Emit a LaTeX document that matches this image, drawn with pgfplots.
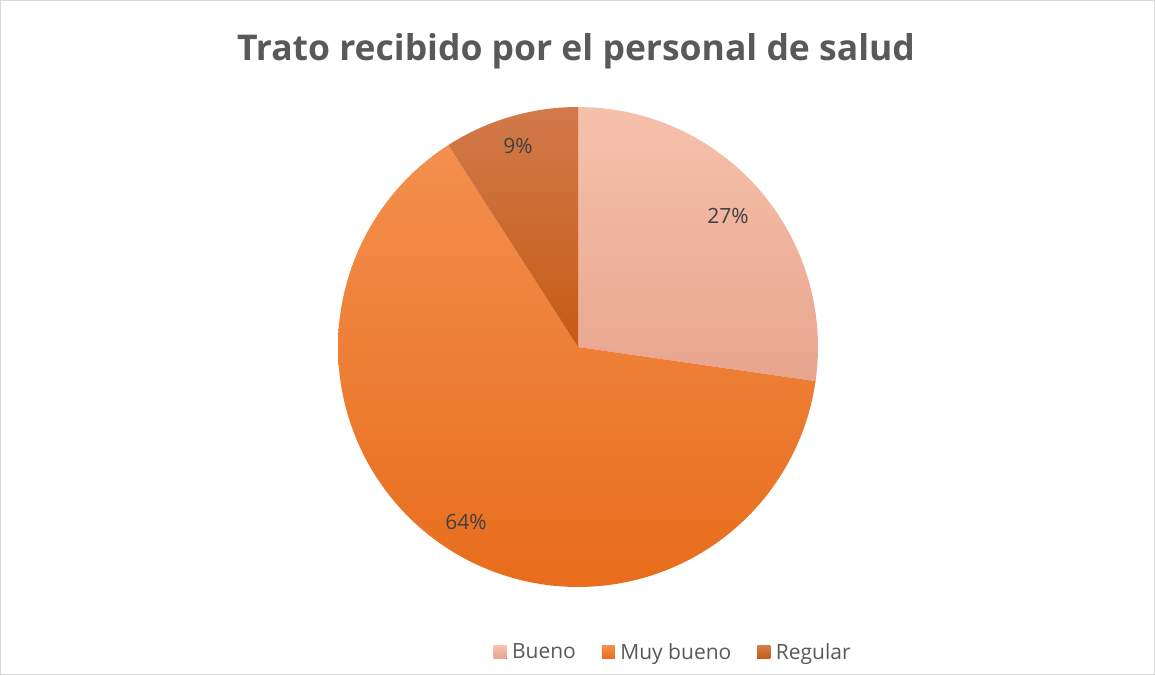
\documentclass[border=0pt]{standalone}
\usepackage{fontspec}
\setmainfont{Open Sans}
\usepackage{pgfplots}
\pgfplotsset{compat=1.18}
\definecolor{titlegray}{HTML}{595959}
\definecolor{labelgray}{HTML}{404040}
\definecolor{framegray}{HTML}{D9D9D9}
\definecolor{buenoT}{HTML}{F6C1AB}
\definecolor{buenoB}{HTML}{E8A58E}
\definecolor{muyT}{HTML}{F38F4E}
\definecolor{muyB}{HTML}{E86D1C}
\definecolor{regT}{HTML}{D27A4C}
\definecolor{regB}{HTML}{C55B13}

% shares in percent (3, 7 and 1 of 11): Bueno 27.27, Muy bueno 63.64, Regular 9.09
% clockwise from 12 o'clock, angles in degrees
\def\aStart{90}
\def\aB{-8.18}     % 90 - 0.2727*360
\def\aM{-237.27}   % -8.18 - 0.6364*360
\def\aEnd{-270}

\begin{document}
\begin{tikzpicture}
\draw[framegray, line width=1pt] (0.5pt,0.5pt) rectangle (1154.5pt,674.5pt);
\node[anchor=base, font=\fontsize{35.5}{42}\selectfont\bfseries, text=titlegray]
  at (576pt,614pt) {Trato recibido por el personal de salud};
\begin{axis}[
    at={(578pt,328pt)}, anchor=center,
    scale only axis, width=480pt, height=480pt,
    xmin=-1, xmax=1, ymin=-1, ymax=1,
    hide axis,
    legend columns=3,
    legend style={at={(0.698,-0.135)}, anchor=center, draw=none, fill=none,
      font=\fontsize{21}{25}\selectfont, text=titlegray,
      /tikz/every odd column/.append style={column sep=3.5pt},
      /tikz/every even column/.append style={column sep=24pt}},
    legend image code/.code={\fill[#1] (0pt,-7pt) rectangle (13pt,6pt);},
]
\addplot[draw=none, top color=buenoT, bottom color=buenoB, domain=\aStart:\aB, samples=80]
  ({cos(x)}, {sin(x)}) -- (axis cs:0,0) -- cycle;
\addplot[draw=none, top color=muyT, bottom color=muyB, domain=\aB:\aM, samples=160]
  ({cos(x)}, {sin(x)}) -- (axis cs:0,0) -- cycle;
\addplot[draw=none, top color=regT, bottom color=regB, domain=\aM:\aEnd, samples=30]
  ({cos(x)}, {sin(x)}) -- (axis cs:0,0) -- cycle;
\legend{Bueno, Muy bueno, Regular}
\node[text=labelgray, font=\fontsize{21}{25}\selectfont] at (axis cs:0.625,0.546) {27\%};
\node[text=labelgray, font=\fontsize{21}{25}\selectfont] at (axis cs:-0.25,0.8375) {9\%};
\node[text=labelgray, font=\fontsize{21}{25}\selectfont] at (axis cs:-0.467,-0.729) {64\%};
\end{axis}
\end{tikzpicture}
\end{document}
